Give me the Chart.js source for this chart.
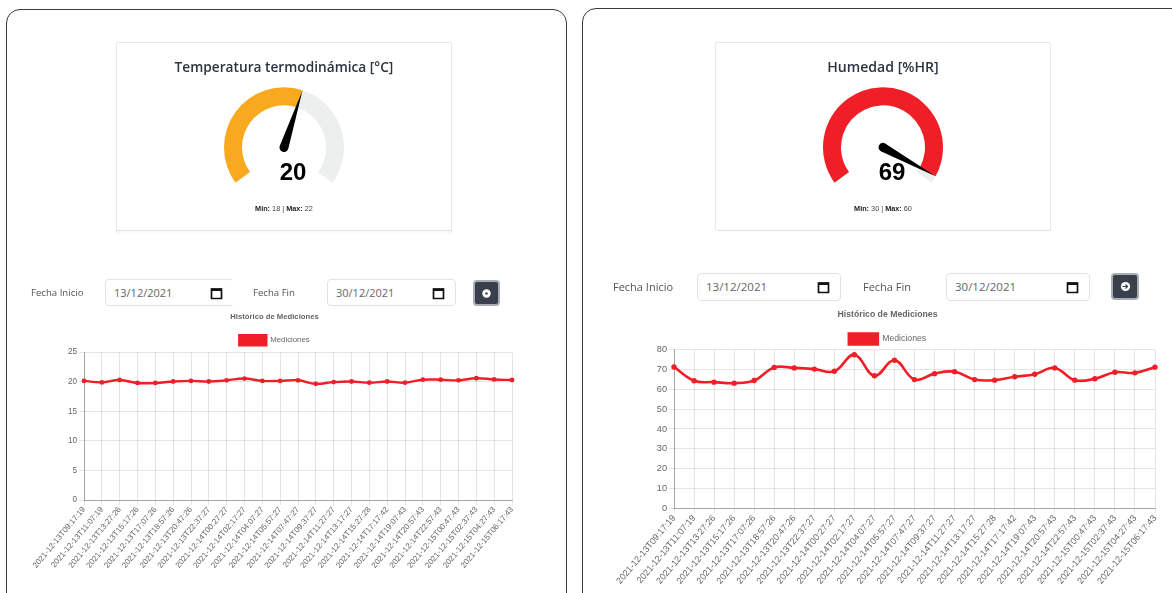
<!DOCTYPE html>
<html lang="es"><head><meta charset="utf-8">
<script src="https://cdn.jsdelivr.net/npm/chart.js@4"></script>
<style>
html,body{margin:0;padding:0;background:#fff;width:1172px;height:593px;overflow:hidden}
#page{position:absolute;left:0;top:0;width:1172px;height:593px;overflow:hidden;filter:blur(.35px);font-family:"Open Sans",sans-serif}
.abs{position:absolute;box-sizing:border-box}
.frame{border:1px solid #3a3a3a;border-radius:14px;background:#fff}
.card{border:1px solid #e6e8ea;border-radius:2px;background:#fff}
.foot{background:#fafafa;border-top:1px solid #e3e3e3}
.title{font-weight:600;color:#2b3440;text-align:center;white-space:nowrap}
.val{font:bold 24px "Liberation Sans",Arial,sans-serif;color:#000;text-align:center}
.mm{font:7.3px "Liberation Sans",Arial,sans-serif;color:#444;text-align:center;white-space:nowrap}
.mm b{color:#222}
.lab{color:#555;white-space:nowrap;line-height:16px}
.inp{border:1px solid #dfe3e8;border-radius:4px;background:#fff;color:#666;line-height:26px;padding-left:8px}
.inp svg{position:absolute;top:6px;width:13px;height:14px}
.btn{background:#3a404b;border:2px solid #a9adb3;border-radius:4px}
.btn svg{position:absolute;left:6px;top:6px;width:11px;height:11px}
canvas{position:absolute}
</style></head><body>
<div id="page">
<div class="abs frame" style="left:6px;top:9px;width:561px;height:600px"></div>
<div class="abs frame" style="left:582px;top:8px;width:620px;height:600px"></div>

<div class="abs card" style="left:116px;top:42px;width:336px;height:192px"></div>
<div class="abs foot" style="left:117px;top:230px;width:334px;height:4px"></div>
<div class="abs card" style="left:715px;top:42px;width:336px;height:189px"></div>
<div class="abs foot" style="left:716px;top:230px;width:334px;height:1px"></div>

<div class="abs title" style="left:116px;top:57px;width:336px;font-size:13.7px" id="t1"></div>
<div class="abs title" style="left:715px;top:57px;width:336px;font-size:14.1px" id="t2"></div>
<div class="abs" style="left:223.5px;top:87px;width:120px;height:96px"><canvas id="g1"></canvas></div>
<div class="abs" style="left:823px;top:87px;width:120px;height:96px"><canvas id="g2"></canvas></div>
<div class="abs val" style="left:253px;top:158px;width:80px" id="v1"></div>
<div class="abs val" style="left:852px;top:158px;width:80px" id="v2"></div>
<div class="abs mm" style="left:184px;top:204px;width:200px" id="m1"></div>
<div class="abs mm" style="left:783px;top:204px;width:200px" id="m2"></div>

<div class="abs lab" style="left:31px;top:285px;font-size:9.6px">Fecha Inicio</div>
<div class="abs inp" style="left:105px;top:279px;width:129px;height:27px;border-right-color:#fff;font-size:11px">13/12/2021<svg style="left:104px" viewBox="0 0 13 14"><path d="M1.5 3h10v9.5h-10z" fill="none" stroke="#111" stroke-width="1.7"/><path d="M1 2.5h11v2.5H1z" fill="#111"/></svg></div>
<div class="abs lab" style="left:253px;top:285px;font-size:9.6px">Fecha Fin</div>
<div class="abs inp" style="left:327px;top:279px;width:129px;height:27px;font-size:11px">30/12/2021<svg style="left:104px" viewBox="0 0 13 14"><path d="M1.5 3h10v9.5h-10z" fill="none" stroke="#111" stroke-width="1.7"/><path d="M1 2.5h11v2.5H1z" fill="#111"/></svg></div>
<div class="abs btn" style="left:473px;top:280px;width:27px;height:26px"><svg viewBox="0 0 11 11"><circle cx="5.5" cy="5.5" r="4.2" fill="#fff"/><circle cx="5.5" cy="5.5" r="1.2" fill="#3a404b"/></svg></div>

<div class="abs lab" style="left:613px;top:279px;font-size:11px">Fecha Inicio</div>
<div class="abs inp" style="left:697px;top:273px;width:144px;height:28px;font-size:11.5px">13/12/2021<svg style="left:119px" viewBox="0 0 13 14"><path d="M1.5 3h10v9.5h-10z" fill="none" stroke="#111" stroke-width="1.7"/><path d="M1 2.5h11v2.5H1z" fill="#111"/></svg></div>
<div class="abs lab" style="left:863px;top:279px;font-size:11px">Fecha Fin</div>
<div class="abs inp" style="left:946px;top:273px;width:144px;height:28px;font-size:11.5px">30/12/2021<svg style="left:119px" viewBox="0 0 13 14"><path d="M1.5 3h10v9.5h-10z" fill="none" stroke="#111" stroke-width="1.7"/><path d="M1 2.5h11v2.5H1z" fill="#111"/></svg></div>
<div class="abs btn" style="left:1111px;top:273px;width:28px;height:27px"><svg viewBox="0 0 11 11" style="left:6.5px"><circle cx="5.5" cy="5.5" r="4.6" fill="#fff"/><path d="M2.5 5.5h5M5.5 3.5l2 2-2 2" fill="none" stroke="#3a404b" stroke-width="1.2"/></svg></div>

<div class="abs" style="left:25px;top:308px;width:492px;height:268px"><canvas id="c1"></canvas></div>
<div class="abs" style="left:610px;top:305px;width:550px;height:283px"><canvas id="c2"></canvas></div>
</div>
<script>
const labels = ["2021-12-13T09:17:19","2021-12-13T11:07:19","2021-12-13T13:27:26","2021-12-13T15:17:26","2021-12-13T17:07:26","2021-12-13T18:57:26","2021-12-13T20:47:26","2021-12-13T22:37:27","2021-12-14T00:27:27","2021-12-14T02:17:27","2021-12-14T04:07:27","2021-12-14T05:57:27","2021-12-14T07:47:27","2021-12-14T09:37:27","2021-12-14T11:27:27","2021-12-14T13:17:27","2021-12-14T15:27:28","2021-12-14T17:17:42","2021-12-14T19:07:43","2021-12-14T20:57:43","2021-12-14T22:57:43","2021-12-15T00:47:43","2021-12-15T02:37:43","2021-12-15T04:27:43","2021-12-15T06:17:43"];
const temperatura = [20.15,19.9,20.3,19.8,19.8,20.05,20.15,20.05,20.25,20.55,20.15,20.15,20.25,19.65,19.95,20.05,19.85,20.05,19.85,20.35,20.35,20.25,20.6,20.4,20.3];
const humedad = [71.4,64.4,63.7,63.2,64.5,71.1,70.9,70.3,69.2,77.6,66.9,74.8,65,68,69,65,64.7,66.4,67.7,70.9,64.7,65.4,68.7,68.4,71.3];
const seriesName = "Mediciones";
const chartTitle = "Histórico de Mediciones";
const tempTitle = "Temperatura termodinámica [°C]";
const humTitle = "Humedad [%HR]";
const tempGauge = [20, 35];   // value, scale maximum
const humGauge = [69, 71];
const tempLimits = [18, 22];
const humLimits = [30, 60];
const RED = "#f01f27", ORANGE = "#f9a91e", TRACK = "#edefee";

document.getElementById('t1').textContent = tempTitle;
document.getElementById('t2').textContent = humTitle;
document.getElementById('v1').textContent = tempGauge[0];
document.getElementById('v2').textContent = humGauge[0];
document.getElementById('m1').innerHTML = `<b>Min:</b> ${tempLimits[0]} | <b>Max:</b> ${tempLimits[1]}`;
document.getElementById('m2').innerHTML = `<b>Min:</b> ${humLimits[0]} | <b>Max:</b> ${humLimits[1]}`;

const needle = {
  id:'needle',
  afterDatasetsDraw(chart){
    const arc = chart.getDatasetMeta(0).data[0];
    const a = arc.endAngle, cx = arc.x, cy = arc.y, R = arc.outerRadius, w = 4.5;
    const ctx = chart.ctx;
    ctx.save();
    ctx.translate(cx,cy); ctx.rotate(a);
    ctx.fillStyle = "#000";
    ctx.beginPath();
    ctx.arc(0,0,w,Math.PI/2,Math.PI*1.5);
    ctx.lineTo(R,0);
    ctx.closePath();
    ctx.fill();
    ctx.restore();
  }
};
function gauge(id, g, color){
  new Chart(document.getElementById(id),{
    type:'doughnut',
    data:{labels:['valor','resto'],datasets:[{data:[g[0],g[1]-g[0]],backgroundColor:[color,TRACK],borderWidth:0}]},
    options:{responsive:true,maintainAspectRatio:false,animation:false,rotation:-126,circumference:252,cutout:'70%',
      plugins:{legend:{display:false},tooltip:{enabled:false}}},
    plugins:[needle]
  });
}
gauge('g1',tempGauge,ORANGE);
gauge('g2',humGauge,RED);

function line(id, values, o){
  const legendCut = {
    id:'legendCut',
    beforeInit(chart){
      const fit = chart.legend.fit;
      chart.legend.fit = function(){ fit.call(this); this.height -= o.cut; };
    }
  };
  new Chart(document.getElementById(id),{
    type:'line',
    data:{labels,datasets:[{label:seriesName,data:values,borderColor:RED,backgroundColor:RED,borderWidth:o.lw,pointRadius:o.pr,pointBackgroundColor:RED,pointBorderColor:RED,pointBorderWidth:0,tension:0.4,fill:false}]},
    plugins:[legendCut],
    options:{responsive:true,maintainAspectRatio:false,animation:false,
      elements:{line:{tension:0.4,capBezierPoints:false}},
      layout:{padding:{top:o.padTop,right:o.padRight,left:o.padLeft,bottom:0}},
      plugins:{
        tooltip:{enabled:false},
        title:{display:true,text:chartTitle,color:'#666',font:{family:'"Liberation Sans",Arial',size:o.fs-0.5,weight:'bold'},padding:{top:0,bottom:o.titleBottom}},
        legend:{display:true,labels:{color:'#666',boxWidth:o.boxW,boxHeight:o.boxH,padding:o.legPad,font:{family:'"Liberation Sans",Arial',size:o.legFs}}}
      },
      scales:{
        x:{afterFit(s){s.height=o.xH;s.paddingLeft=0;s.paddingRight=0},ticks:{minRotation:50,maxRotation:50,autoSkip:false,color:'#666',padding:0,font:{family:'"Liberation Sans",Arial',size:o.tickFs}},grid:{color:'rgba(0,0,0,.1)',tickLength:5},border:{color:'rgba(0,0,0,.28)'}},
        y:{min:0,max:o.max,afterFit(s){s.width=o.yW;s.paddingTop=0;s.paddingBottom=0},ticks:{stepSize:o.step,color:'#666',padding:2,font:{family:'"Liberation Sans",Arial',size:o.fs}},grid:{color:'rgba(0,0,0,.1)',tickLength:5},border:{color:'rgba(0,0,0,.28)'}}
      }
    }
  });
}
line('c1',temperatura,{max:25,step:5,lw:2.4,pr:2.4,fs:8.2,tickFs:8,legFs:7.8,padTop:4,padRight:5,padLeft:12,boxW:27,boxH:10,legPad:4,titleBottom:10,cut:3,xH:76,yW:47});
line('c2',humedad,{max:80,step:10,lw:2.6,pr:2.7,fs:9.2,tickFs:9,legFs:8.7,padTop:4,padRight:5,padLeft:10,boxW:29,boxH:11,legPad:3.5,titleBottom:10.5,cut:4.5,xH:80,yW:54});
</script>
</body></html>
